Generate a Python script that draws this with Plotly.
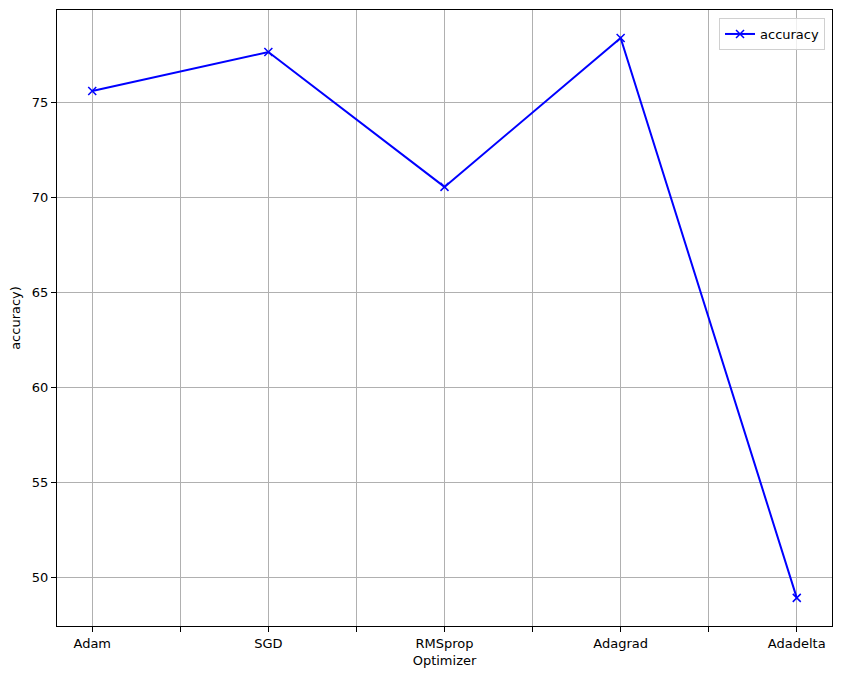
import plotly.graph_objects as go

optimizers = ["Adam", "SGD", "RMSprop", "Adagrad", "Adadelta"]
accuracy = [75.63, 77.68, 70.58, 78.42, 48.95]
y_ticks = [50, 55, 60, 65, 70, 75]

x_idx = list(range(len(optimizers)))
# ticks at every half-step; labels only on integers
tick_vals = [i / 2 for i in range(2 * len(optimizers) - 1)]
tick_text = [optimizers[int(v)] if v == int(v) else "" for v in tick_vals]

fig = go.Figure()
fig.add_trace(go.Scatter(
    x=x_idx, y=accuracy, mode="lines+markers", name="accuracy",
    line=dict(color="blue", width=2),
    marker=dict(symbol="x-thin", size=8, line=dict(color="blue", width=1.5), color="blue"),
))

axis_common = dict(
    showline=True, linecolor="black", linewidth=1, mirror=True,
    ticks="outside", ticklen=5, tickwidth=1, tickcolor="black",
    showgrid=True, gridcolor="#b0b0b0", gridwidth=1, zeroline=False,
    tickfont=dict(family="DejaVu Sans", size=13, color="black"),
    title_font=dict(family="DejaVu Sans", size=13, color="black"),
)

fig.update_layout(
    width=833, height=671,
    margin=dict(l=49, r=9, t=2, b=53),
    paper_bgcolor="white", plot_bgcolor="white",
    font=dict(family="DejaVu Sans", size=13, color="black"),
    xaxis=dict(range=[-0.2, 4.2], tickmode="array", tickvals=tick_vals, ticktext=tick_text,
               title=dict(text="Optimizer", standoff=6), **axis_common),
    yaxis=dict(range=[47.47, 79.89], tickmode="array", tickvals=y_ticks,
               title=dict(text="accuracy)", standoff=10), **axis_common),
    showlegend=True,
    legend=dict(x=0.991, y=0.987, xanchor="right", yanchor="top",
                bgcolor="rgba(255,255,255,0.8)", bordercolor="#d0d0d0", borderwidth=1,
                font=dict(family="DejaVu Sans", size=13, color="black")),
)

fig.write_html("out.html")
